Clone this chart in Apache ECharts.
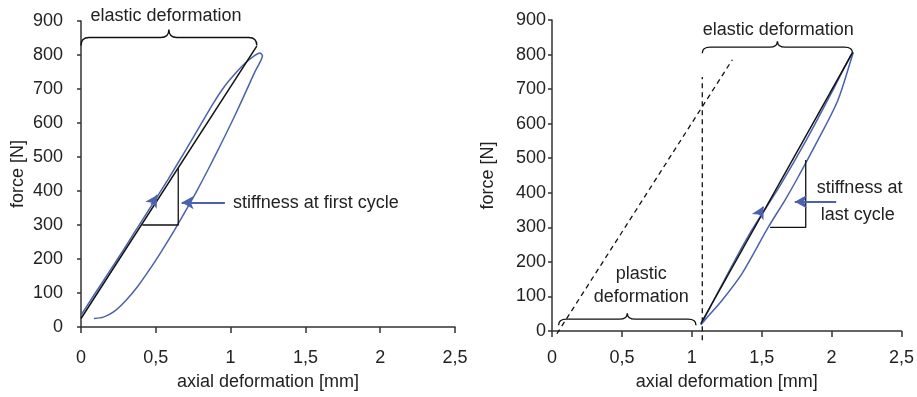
<!DOCTYPE html>
<html>
<head>
<meta charset="utf-8">
<script src="https://cdn.jsdelivr.net/npm/echarts@6/dist/echarts.min.js"></script>
<style>
html,body{margin:0;padding:0;background:#fff}
#chart{width:917px;height:397px}
</style>
</head>
<body>
<div id="chart"></div>
<script>
// axis ranges
const xMax = 2.5, xStep = 0.5
const yMax = 900, yStep = 100

// left panel: first cycle
const leftStiffLine = [[0, 25], [1.175, 826]]
const leftLoop = [[0, 35], [0.1, 103], [0.2, 170], [0.3, 238], [0.4, 308], [0.5, 377], [0.58, 433],
  [0.7, 520], [0.8, 595], [0.88, 655], [0.96, 708], [1.04, 750], [1.1, 777], [1.16, 798], [1.195, 806],
  [1.213, 798], [1.2, 782], [1.16, 748], [1.1, 690], [1.02, 614], [0.94, 542], [0.86, 472], [0.78, 405],
  [0.7, 342], [0.62, 281], [0.54, 224], [0.46, 170], [0.38, 120], [0.3, 78], [0.22, 45], [0.15, 29],
  [0.087, 25]]
const leftTriangle = [[0.41, 300], [0.65, 300], [0.65, 467]]

// right panel: last cycle
const rightStiffLine = [[1.064, 21], [2.151, 806]]
const rightLoop = [[1.065, 18], [1.2, 122], [1.4, 272], [1.63, 420], [1.82, 553], [2.0, 690], [2.14, 800],
  [2.155, 806], [2.139, 785], [2.045, 668], [1.903, 553], [1.749, 437], [1.667, 379], [1.548, 301],
  [1.359, 166], [1.217, 89], [1.1, 35], [1.065, 18]]
const rightTriangle = [[1.56, 300], [1.815, 300], [1.815, 495]]
const plasticLine = [[0.035, -8], [1.29, 785]]
const unloadMark = [[1.075, -27], [1.075, 735]]

// braces: [x start, x end, y at the ends]
const leftBraces = [[0, 1.175, 828]]
const rightBraces = [[1.075, 2.15, 804], [0.047, 1.03, 17]]

// text labels: [x, y, text, align]
const leftLabels = [[0.568, 916, 'elastic deformation', 'center'], [1.016, 366, 'stiffness at first cycle', 'left']]
const rightLabels = [[1.619, 872, 'elastic deformation', 'center'], [2.2, 413, 'stiffness at', 'center'],
  [2.187, 335, 'last cycle', 'center'], [0.638, 166, 'plastic', 'center'], [0.638, 99, 'deformation', 'center']]

// arrows: [from, to]
const leftArrows = [[[0.962, 366], [0.673, 366]], [[0.47, 360], [0.51, 388]]]
const rightArrows = [[[2.033, 374], [1.737, 374]], [[1.48, 336], [1.512, 360]]]

const blue = '#4a62ad'
const ink = '#111'
const font = '"Liberation Sans", Arial, sans-serif'

const chart = echarts.init(document.getElementById('chart'))

function xAxisFor(gridIndex, margin, gap){
    return {
        gridIndex: gridIndex, type: 'value', min: 0, max: xMax, interval: xStep,
        name: 'axial deformation [mm]', nameLocation: 'middle', nameGap: gap,
        nameTextStyle: {fontSize: 18, fontFamily: font, color: '#222'},
        axisLine: {lineStyle: {color: '#333', width: 1.5}},
        axisTick: {show: true, length: 6, lineStyle: {color: '#333', width: 1.5}},
        axisLabel: {fontSize: 18, fontFamily: font, color: '#222', margin: margin,
            formatter: v => String(v).replace('.', ',')},
        splitLine: {show: false}
    }
}
function yAxisFor(gridIndex, margin, gap){
    return {
        gridIndex: gridIndex, type: 'value', min: 0, max: yMax, interval: yStep,
        name: 'force [N]', nameLocation: 'middle', nameGap: gap, nameRotate: 90,
        nameTextStyle: {fontSize: 18, fontFamily: font, color: '#222'},
        axisLine: {show: true, lineStyle: {color: '#333', width: 1.5}},
        axisTick: {show: true, length: 4, lineStyle: {color: '#333', width: 1.5}},
        axisLabel: {fontSize: 18, fontFamily: font, color: '#222', margin: margin},
        splitLine: {show: false}
    }
}

function lineSeries(idx, data, color, extra){
    return Object.assign({
        type: 'line', xAxisIndex: idx, yAxisIndex: idx, data: data,
        showSymbol: false, symbol: 'none', clip: false,
        lineStyle: {color: color, width: 1.5}
    }, extra || {})
}

function arrowSeries(idx, arrows){
    return {
        type: 'line', xAxisIndex: idx, yAxisIndex: idx, data: [], silent: true,
        markLine: {
            silent: true, symbol: ['none', 'arrow'], symbolSize: [10, 12],
            label: {show: false},
            lineStyle: {color: blue, width: 1.8, type: 'solid'},
            emphasis: {disabled: true},
            data: arrows.map(a => [{coord: a[0]}, {coord: a[1]}])
        }
    }
}

function braceSeries(idx, braces){
    return {
        type: 'custom', xAxisIndex: idx, yAxisIndex: idx, silent: true, clip: false,
        data: braces,
        renderItem: function(params, api){
            const p0 = api.coord([api.value(0), api.value(2)])
            const p1 = api.coord([api.value(1), api.value(2)])
            const b = p0[1], h = params.dataIndex === 0 && idx === 0 ? 16 : 12, r = 8
            const m = (p0[0] + p1[0]) / 2
            const hh = b - h / 2, top = b - h
            const d = 'M' + p0[0] + ',' + b + ' Q' + p0[0] + ',' + hh + ' ' + (p0[0] + r) + ',' + hh +
                ' L' + (m - r) + ',' + hh + ' Q' + m + ',' + hh + ' ' + m + ',' + top +
                ' Q' + m + ',' + hh + ' ' + (m + r) + ',' + hh +
                ' L' + (p1[0] - r) + ',' + hh + ' Q' + p1[0] + ',' + hh + ' ' + p1[0] + ',' + b
            return {type: 'path', shape: {pathData: d}, style: {fill: 'none', stroke: ink, lineWidth: 1.4}}
        }
    }
}

function labelSeries(idx, labels){
    return {
        type: 'custom', xAxisIndex: idx, yAxisIndex: idx, silent: true, clip: false,
        data: labels.map(l => [l[0], l[1]]),
        renderItem: function(params, api){
            const p = api.coord([api.value(0), api.value(1)])
            const l = labels[params.dataIndex]
            return {type: 'text', x: p[0], y: p[1], style: {text: l[2], align: l[3], verticalAlign: 'middle',
                fontSize: 18, fontFamily: font, fill: '#222'}}
        }
    }
}

chart.setOption({
    animation: false,
    backgroundColor: '#fff',
    grid: [
        {left: 81, right: 462, top: 21, bottom: 70},
        {left: 552, right: 13, top: 20, bottom: 66}
    ],
    xAxis: [xAxisFor(0, 22, 46), xAxisFor(1, 18, 42)],
    yAxis: [yAxisFor(0, 18, 54), yAxisFor(1, 6, 55)],
    series: [
        lineSeries(0, leftLoop, blue, {smooth: 0.25}),
        lineSeries(0, leftStiffLine, ink),
        lineSeries(0, leftTriangle, ink, {lineStyle: {color: ink, width: 1.3}}),
        arrowSeries(0, leftArrows),
        braceSeries(0, leftBraces),
        labelSeries(0, leftLabels),

        lineSeries(1, plasticLine, ink, {lineStyle: {color: ink, width: 1.3, type: [5, 4]}}),
        lineSeries(1, unloadMark, ink, {lineStyle: {color: ink, width: 1.3, type: [5, 4]}}),
        lineSeries(1, rightLoop, blue, {smooth: 0.3}),
        lineSeries(1, rightStiffLine, ink),
        lineSeries(1, rightTriangle, ink, {lineStyle: {color: ink, width: 1.3}}),
        arrowSeries(1, rightArrows),
        braceSeries(1, rightBraces),
        labelSeries(1, rightLabels)
    ]
})
</script>
</body>
</html>
